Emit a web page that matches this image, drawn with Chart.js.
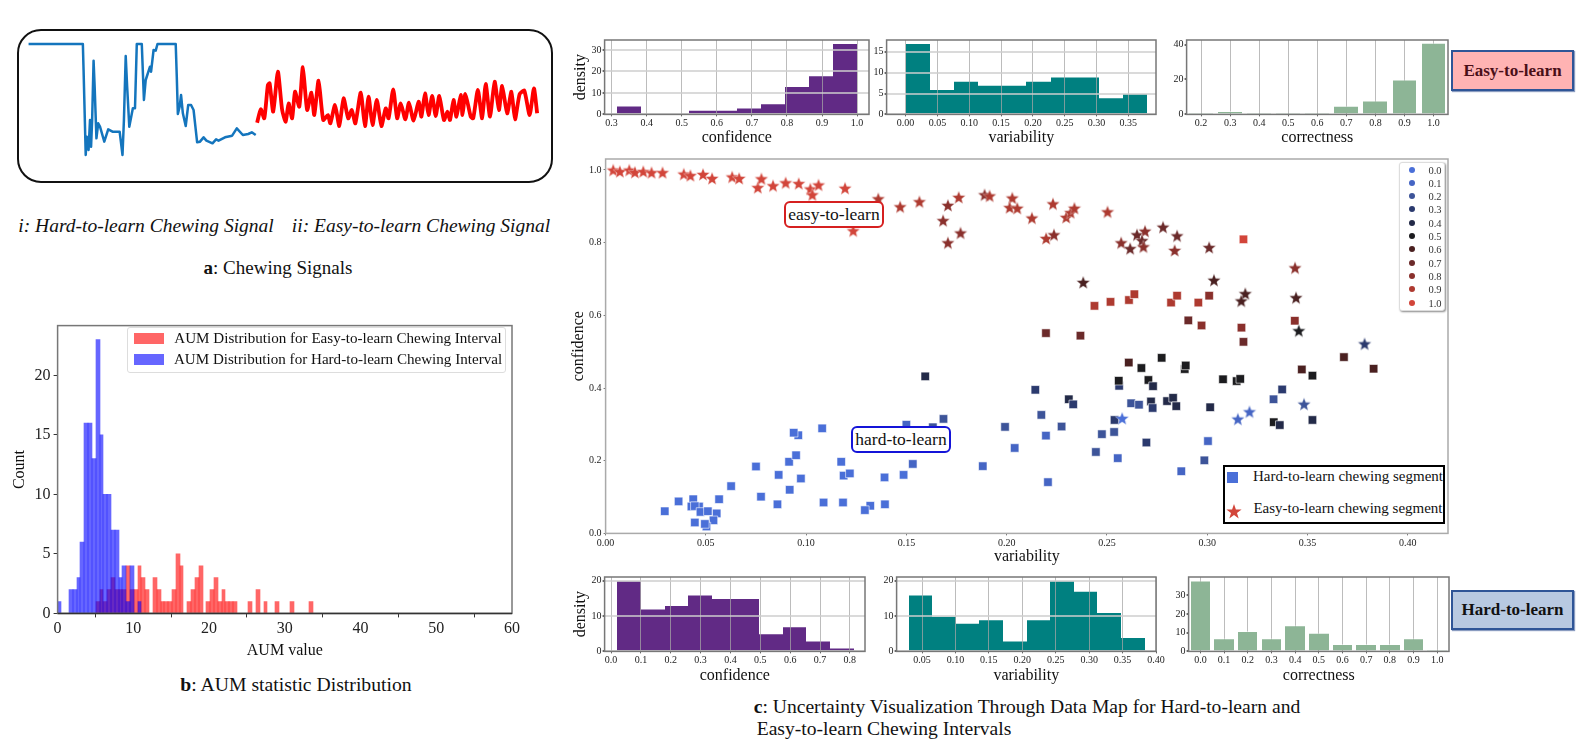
<!DOCTYPE html>
<html>
<head>
<meta charset="utf-8">
<title>Chewing data map</title>
<script src="https://cdn.jsdelivr.net/npm/chart.js@4/dist/chart.umd.min.js"></script>
<style>
  html, body { margin: 0; padding: 0; background: #fff; }
  body { position: relative; width: 1587px; height: 742px; overflow: hidden; font-family: "Liberation Serif", serif; color: #111; }
  canvas { position: absolute; }
  .t { position: absolute; white-space: nowrap; transform: translate(-50%, -50%); }
  .box { position: absolute; box-sizing: border-box; }
  .tag { position: absolute; box-sizing: border-box; border: 2px solid #2f5597; font-weight: bold; font-size: 17px; text-align: center; box-shadow: 1px 1px 1px #8a9cc0; }
  .note { position: absolute; box-sizing: border-box; background: #fff; border-radius: 6px; border: 2px solid; font-size: 17.5px; text-align: center; line-height: 23px; }
  .swatch { position: absolute; }
  .dot { position: absolute; width: 6px; height: 6px; border-radius: 50%; }
</style>
</head>
<body>

<div class="box" style="left:17px;top:29px;width:536px;height:154px;border:2px solid #111;border-radius:24px"></div>
<div class="t" style="left:146px;top:226px;font-size:19.5px;font-style:italic">i: Hard-to-learn Chewing Signal</div>
<div class="t" style="left:421px;top:226px;font-size:19.5px;font-style:italic">ii: Easy-to-learn Chewing Signal</div>
<div class="t" style="left:278px;top:268px;font-size:19px"><b>a</b>: Chewing Signals</div>
<div class="t" style="left:296px;top:684px;font-size:19.7px"><b>b</b>: AUM statistic Distribution</div>

<div class="box" style="left:127px;top:327px;width:379px;height:46px;background:rgba(255,255,255,.85);border:1px solid #ddd;border-radius:3px;z-index:2">
  <div class="swatch" style="left:6px;top:5px;width:30px;height:11px;background:rgba(255,0,0,.6)"></div>
  <div class="swatch" style="left:6px;top:26px;width:30px;height:11px;background:rgba(0,0,255,.6)"></div>
  <div class="t" style="left:210px;top:10px;font-size:15.1px">AUM Distribution for Easy-to-learn Chewing Interval</div>
  <div class="t" style="left:210px;top:31px;font-size:15.1px">AUM Distribution for Hard-to-learn Chewing Interval</div>
</div>

<div class="tag" style="left:1451px;top:50px;width:123px;height:41px;background:#ffb3b3;color:#4a0f18;line-height:37px">Easy-to-learn</div>
<div class="tag" style="left:1451px;top:590px;width:123px;height:40px;background:#b8c9e1;color:#111;line-height:36px">Hard-to-learn</div>

<div class="t" style="left:1027px;top:707px;font-size:19.6px"><b>c</b>: Uncertainty Visualization Through Data Map for Hard-to-learn and</div>
<div class="t" style="left:884px;top:729px;font-size:19.6px">Easy-to-learn Chewing Intervals</div>

<div id="charts"></div>

<div class="note" style="left:784px;top:201px;width:100px;height:27px;border-color:#d62020;z-index:3">easy-to-learn</div>
<div class="note" style="left:851px;top:426px;width:100px;height:27px;border-color:#1414d8;z-index:3">hard-to-learn</div>

<div class="box" id="corrLegend" style="left:1399px;top:162px;width:46px;height:149px;background:#fff;border:1px solid #ddd;border-radius:3px;box-shadow:1px 1px 2px #888;z-index:3"></div>

<div class="box" style="left:1223px;top:465px;width:222px;height:59px;background:#fff;border:2px solid #000;z-index:3">
  <div class="swatch" style="left:2px;top:5px;width:11px;height:11px;background:#4a6fd8"></div>
  <svg class="swatch" style="left:1px;top:37px" width="16" height="16" viewBox="-8 -8 16 16"><polygon fill="#d2453a" points="0,-8 1.9,-2.5 7.6,-2.5 3,0.9 4.7,6.5 0,3.1 -4.7,6.5 -3,0.9 -7.6,-2.5 -1.9,-2.5"/></svg>
  <div class="t" style="left:123px;top:9px;font-size:15px">Hard-to-learn chewing segment</div>
  <div class="t" style="left:123px;top:41px;font-size:15px">Easy-to-learn chewing segment</div>
</div>

<script>
// a: chewing signals
const hardSignalT = [80,232,234,240,243,248,252,255,258,262,265,270,275,280,292,303,315,335,343,347,352,356,362,372,378,383,397,403,408,420,423,430,436,441,492,495,498,503,507,512,520,527,535,542,552,560,570,578,595,605,612,630,650,663,680,695,705,716];
const hardSignalAmp = [428,428,350,95,150,110,200,120,200,378,300,145,190,180,135,172,165,165,95,200,392,300,180,235,235,428,428,260,320,360,345,410,408,428,428,330,218,240,275,220,182,245,245,230,133,135,148,138,130,142,138,148,153,175,155,158,163,155];
const easySignalT = [720,730,740,750,755,765,778,790,800,808,818,826,838,848,860,872,880,892,905,918,925,938,950,962,975,985,995,1010,1022,1032,1043,1055,1068,1080,1088,1101,1112,1122,1135,1145,1158,1172,1180,1190,1200,1210,1220,1230,1243,1253,1260,1270,1278,1290,1295,1303,1318,1325,1338,1350,1360,1372,1385,1397,1406,1420,1432,1442,1455,1468,1483,1495,1504];
const easySignalAmp = [192,232,205,305,310,225,345,230,195,250,205,285,240,358,230,282,215,318,200,215,190,245,182,265,205,230,190,282,182,270,185,260,182,235,205,292,205,250,202,252,198,255,210,280,215,272,212,272,200,225,200,260,210,275,215,278,210,205,290,205,308,210,315,230,302,220,285,202,278,288,215,295,220];

// b: AUM histogram, counts per bin of width aumBinWidth starting at 0
const aumBinWidth = 0.5035;
const aumEasyCounts = [0,0,0,0,0,0,0,0,0,0,1,2,1,2,3,2,2,2,4,2,2,4,3,2,0,3,2,1,1,1,2,5,4,0,1,2,3,4,0,1,2,3,1,2,1,1,1,0,0,0,1,0,2,0,1,0,0,1,0,0,0,1,0,0,0,0,1];
const aumHardCounts = [1,0,0,2,2,3,6,16,16,13,23,15,10,10,7,7,3,4,1,4,0,1];

// c: histograms above the map (easy-to-learn)
const easyConfidenceCounts = [4,0,0,2,2,3,5,13,18,33];
const easyVariabilityCounts = [17,6,8,7,7,8,9,9,4,5];
const easyCorrectnessLabels = ['0.2','0.3','0.4','0.5','0.6','0.7','0.8','0.9','1.0'];
const easyCorrectnessCounts = [1,2,1,1,1,5,8,20,41];

// c: histograms below the map (hard-to-learn)
const hardConfidenceCounts = [20,12,13,16,15,15,5,7,3,1];
const hardVariabilityCounts = [16,10,8,9,3,9,20,17,11,4];
const hardCorrectnessLabels = ['0.0','0.1','0.2','0.3','0.4','0.5','0.6','0.7','0.8','0.9','1.0'];
const hardCorrectnessCounts = [38,7,11,7,14,10,4,4,4,7,1];

// c: data map, hard-to-learn squares
const hardVariability = [.0295,.0364,.0437,.0428,.0466,.0445,.0473,.051,.0566,.0554,.0538,.0445,.0503,.0495,.0626,.075,.0775,.0863,.0857,.0915,.0918,.0961,.0938,.095,.0974,.108,.1087,.1175,.1187,.1184,.1218,.132,.1293,.1391,.1393,.1486,
  .15,.1532,.1594,.1632,.1685,.1881,.2196,.2368,.2438,.2518,.261,.2637,.282,.285,.2956,.301,.2906,.2972,.3171,.3181,.3437,.3181,.2609,.2672,.2773,.2888,.2893,.2561,.2559,.2707,.273,.3079,.3147,.3165,.3472,.3525,.3682,.383,
  .3374,.3331,.2143,.231,.2332,.2621,.266,.272,.2728,.28,.283,.2846,.3015,.2173,.1992,.2274,.2538,.2196,.204,.2475,.2536,.2445,.2554,.2697,.2206,.2871,.2986,.3004,.3332,.3362,.3525];
const hardConfidence = [.061,.088,.094,.074,.074,.075,.059,.061,.094,.055,.036,.03,.019,.026,.13,.184,.101,.161,.08,.197,.12,.27,.277,.215,.151,.289,.085,.197,.159,.085,.165,.076,.064,.154,.08,.161,
  .299,.191,.432,.292,.315,.185,.551,.544,.626,.637,.642,.658,.635,.654,.635,.654,.586,.572,.566,.527,.585,.809,.47,.455,.483,.452,.462,.406,.42,.422,.405,.424,.419,.425,.451,.434,.485,.453,
  .396,.369,.395,.369,.355,.358,.354,.363,.345,.364,.373,.35,.347,.326,.293,.294,.312,.269,.235,.273,.279,.224,.207,.25,.141,.171,.201,.254,.306,.298,.312];
const hardCorrectness = [0,0,0,0,0,0,0,0,0,0,0,0,0,0,0,0,0,0,0,0,0,0,0,0,0,0,0,0,0,0,0,0,0,0,0,0,
  .1,.1,.4,.2,.2,.1,.7,.7,.9,.9,.9,.9,.9,.9,.9,.8,.7,.8,.8,.7,.8,1,.6,.5,.5,.5,.5,.3,.5,.5,.4,.5,.5,.5,.6,.5,.6,.6,
  .3,.2,.3,.4,.3,.2,.2,.4,.3,.4,.4,.4,.4,.2,.2,.2,.3,.1,.1,.2,.2,.2,.1,.3,.1,.1,.2,.1,.5,.4,.4];

// c: data map, easy-to-learn stars
const easyVariability = [.0038,.0071,.0118,.0146,.0188,.0229,.0284,.039,.0423,.0486,.0531,.0631,.0666,.0759,.0777,.0835,.0898,.0963,.1021,.1031,.1062,.1194,.1235,
  .136,.1469,.1565,.1683,.1707,.1761,.1707,.177,.189,.1915,.2028,.2015,.2053,.2126,.2231,.2297,.2319,.2338,.2503,.2197,.2236,.2382,.2571,.2616,.265,.269,.2675,.2682,.278,.285,.2838,.301,.3034,.319,.317,.3438,.3443,.3457,.3785,.2576,.3153,.3211,.3483];
const easyConfidence = [.998,.994,.998,.992,.994,.991,.991,.987,.983,.986,.975,.979,.975,.95,.974,.955,.963,.961,.946,.93,.957,.948,.831,
  .919,.897,.911,.859,.901,.923,.798,.825,.93,.927,.921,.895,.893,.866,.905,.868,.881,.893,.883,.81,.82,.689,.798,.782,.82,.83,.804,.787,.841,.817,.777,.785,.695,.658,.638,.729,.647,.556,.52,.315,.313,.333,.354];
const easyCorrectness = [1,1,1,1,1,1,1,1,1,1,1,1,1,1,1,1,1,1,1,1,1,1,1,
  .9,.9,.9,.8,.8,.9,.8,.8,.8,.9,.9,.9,.9,.9,.9,.9,.9,.9,.9,.9,.8,.6,.8,.7,.7,.8,.7,.8,.7,.7,.8,.7,.6,.6,.6,.8,.6,.5,.3,0,.1,.1,.2];

const correctnessLevels = ['0.0','0.1','0.2','0.3','0.4','0.5','0.6','0.7','0.8','0.9','1.0'];
const correctnessColors = ['#4a6fd8','#4565c4','#3d5499','#2b3a6e','#232a48','#1c1c1f','#4a2020','#6b2a2a','#8a302c','#ae3a30','#d2453a'];

const serif = 'Liberation Serif';
Chart.defaults.font.family = serif;
Chart.defaults.color = '#222';
Chart.defaults.animation = false;
Chart.defaults.responsive = false;
Chart.defaults.plugins.legend.display = false;
Chart.defaults.plugins.tooltip.enabled = false;

// plot frame, top and right spines do not exist in chart.js
const spines = {
  id: 'spines',
  afterDraw(chart, args, opts) {
    const a = chart.chartArea, c = chart.ctx;
    if (!opts.color) return;
    c.save();
    c.strokeStyle = opts.color;
    c.lineWidth = opts.width || 1.5;
    c.strokeRect(a.left, a.top, a.right - a.left, a.bottom - a.top);
    if (opts.bottom) {
      c.strokeStyle = opts.bottom;
      c.beginPath();
      c.moveTo(a.left, a.bottom);
      c.lineTo(a.right, a.bottom);
      c.stroke();
    }
    c.restore();
  }
};
Chart.register(spines);

// snap histogram bars to whole pixels so neighbours leave no seam
const snapBars = {
  id: 'snapBars',
  beforeDatasetsDraw(chart) {
    chart.getSortedVisibleDatasetMetas().forEach(meta => {
      if (meta.type !== 'bar') return;
      meta.data.forEach(el => {
        const left = Math.round(el.x - el.width / 2);
        const right = Math.round(el.x + el.width / 2);
        el.x = (left + right) / 2;
        el.width = right - left;
      });
    });
  }
};
Chart.register(snapBars);

// place a canvas so the chart area lands on plot {l,t,r,b}
function place(plot, xTitleY, yTitleX, xFont, yFont) {
  const topPad = 6, rightPad = 16;
  const xHalf = xFont * 0.6, yHalf = yFont * 0.6;
  const left = yTitleX - yHalf;
  const bottom = xTitleY + xHalf;
  const cv = document.createElement('canvas');
  cv.width = plot.r + rightPad - left;
  cv.height = bottom - plot.t + topPad;
  cv.style.left = left + 'px';
  cv.style.top = (plot.t - topPad) + 'px';
  cv.style.width = cv.width + 'px';
  cv.style.height = cv.height + 'px';
  document.getElementById('charts').appendChild(cv);
  return {
    cv,
    yWidth: plot.l - left,
    xHeight: bottom - plot.b,
    padding: { top: topPad, right: rightPad, left: 0, bottom: 0 }
  };
}

function histogram(o) {
  const p = place(o.plot, o.xTitleY, o.yTitleX || o.plot.l - 30, 16, 16);
  const pxPerUnit = o.labels ? 0 : (o.plot.r - o.plot.l) / (o.xMax - o.xMin);
  const points = o.labels ? o.counts : o.counts.map((n, i) => ({ x: o.start + (i + 0.5) * o.width, y: n }));
  const dataset = {
    data: points,
    backgroundColor: o.color,
    borderColor: 'rgba(255,255,255,.45)',
    borderWidth: { top: 1, left: 0, right: 0, bottom: 0 },
    borderSkipped: false
  };
  if (o.labels) {
    dataset.barPercentage = 0.82;
    dataset.categoryPercentage = 1;
  } else {
    dataset.barThickness = o.width * pxPerUnit;
  }
  const xTicks = { font: { size: 10 }, padding: 1, maxRotation: 0, autoSkip: false };
  if (o.labels) {
    xTicks.callback = (v, i) => o.labels[i];
  } else {
    xTicks.includeBounds = false;
    xTicks.stepSize = o.xStep;
    xTicks.callback = v => v.toFixed(o.xDigits);
  }
  new Chart(p.cv, {
    type: 'bar',
    data: { labels: o.labels, datasets: [dataset] },
    options: {
      layout: { padding: p.padding, autoPadding: false },
      plugins: { spines: { color: '#777', width: 1.5 } },
      scales: {
        x: {
          type: o.labels ? 'category' : 'linear',
          min: o.labels ? undefined : o.xMin,
          max: o.labels ? undefined : o.xMax,
          offset: !!o.labels,
          afterFit: s => { s.height = p.xHeight; },
          grid: { color: 'rgba(165,165,165,.75)', z: o.labels ? 0 : 1, offset: false, tickLength: 2, tickColor: '#666' },
          ticks: xTicks,
          title: { display: true, text: o.xTitle, font: { size: 16, lineHeight: 1.2 }, padding: 0, color: '#111' },
          border: { display: false }
        },
        y: {
          min: 0, max: o.yMax,
          afterFit: s => { s.width = p.yWidth; },
          grid: { display: true, color: o.yGrid ? 'rgba(205,205,205,.75)' : 'rgba(0,0,0,0)', lineWidth: 2, z: 1, tickLength: 2, tickColor: '#666' },
          ticks: { font: { size: 10 }, padding: 1, stepSize: o.yStep, includeBounds: false, autoSkip: false },
          title: { display: !!o.yTitle, text: o.yTitle, font: { size: 16, lineHeight: 1.2 }, padding: 0, color: '#111' },
          border: { display: false }
        }
      }
    }
  });
}

// a
(function () {
  const cv = document.createElement('canvas');
  cv.width = 560; cv.height = 260;
  cv.style.left = '0px'; cv.style.top = '20px';
  cv.style.width = '560px'; cv.style.height = '260px';
  document.getElementById('charts').appendChild(cv);
  new Chart(cv, {
    type: 'line',
    data: {
      datasets: [
        { data: hardSignalT.map((t, i) => ({ x: t, y: hardSignalAmp[i] })), borderColor: '#1475bd', borderWidth: 2.5, pointRadius: 0, borderJoinStyle: 'round' },
        { data: easySignalT.map((t, i) => ({ x: t, y: easySignalAmp[i] })), borderColor: '#ff0000', borderWidth: 3.8, pointRadius: 0, tension: 0.2, borderJoinStyle: 'round' }
      ]
    },
    options: {
      layout: { padding: 0, autoPadding: false },
      scales: {
        x: { type: 'linear', display: false, min: 0, max: 1568 },
        y: { display: false, min: -280, max: 500 }
      }
    }
  });
})();

// b
(function () {
  const plot = { l: 58, t: 319, r: 513, b: 614 };
  const p = place(plot, 651, 20, 16, 16);
  const toPoints = counts => counts.map((n, i) => ({ x: (i + 0.5) * aumBinWidth, y: n }));
  const thick = aumBinWidth * (plot.r - plot.l) / 60;
  new Chart(p.cv, {
    type: 'bar',
    data: {
      datasets: [
        { data: toPoints(aumHardCounts), backgroundColor: 'rgba(0,0,255,.6)', grouped: false, barThickness: thick, order: 1 },
        { data: toPoints(aumEasyCounts), backgroundColor: 'rgba(255,0,0,.6)', grouped: false, barThickness: thick, order: 2 }
      ]
    },
    options: {
      layout: { padding: p.padding, autoPadding: false },
      plugins: { spines: { color: '#777', width: 1.5, bottom: '#333' } },
      scales: {
        x: {
          type: 'linear', min: 0, max: 60, offset: false,
          afterFit: s => { s.height = p.xHeight; },
          grid: { drawOnChartArea: false, tickLength: 4, tickColor: '#333' },
          ticks: { font: { size: 16 }, padding: 2, stepSize: 10, maxRotation: 0, autoSkip: false },
          title: { display: true, text: 'AUM value', font: { size: 16, lineHeight: 1.2 }, padding: 0, color: '#111' },
          border: { display: false }
        },
        y: {
          min: 0, max: 24.18,
          afterFit: s => { s.width = p.yWidth; },
          grid: { drawOnChartArea: false, tickLength: 4, tickColor: '#333' },
          ticks: { font: { size: 16 }, padding: 3, stepSize: 5, includeBounds: false },
          title: { display: true, text: 'Count', font: { size: 16, lineHeight: 1.2 }, padding: 0, color: '#111' },
          border: { display: false }
        }
      }
    }
  });
})();

// c: top row
const purple = '#612a85', teal = '#008080', sage = '#8db596';
histogram({ plot: { l: 605, t: 39, r: 870, b: 115 }, xTitleY: 138, yTitleX: 581, xTitle: 'confidence', yTitle: 'density',
  counts: easyConfidenceCounts, start: 0.316, width: 0.0684, color: purple, xMin: 0.28, xMax: 1.034, xStep: 0.1, xDigits: 1, yMax: 34.6, yStep: 10, yGrid: true });
histogram({ plot: { l: 887, t: 39, r: 1157, b: 115 }, xTitleY: 138, xTitle: 'variability',
  counts: easyVariabilityCounts, start: 0.0, width: 0.038, color: teal, xMin: -0.0298, xMax: 0.3934, xStep: 0.05, xDigits: 2, yMax: 17.8, yStep: 5, yGrid: true });
histogram({ plot: { l: 1187, t: 39, r: 1449, b: 115 }, xTitleY: 138, xTitle: 'correctness',
  counts: easyCorrectnessCounts, labels: easyCorrectnessLabels, color: sage, yMax: 42.6, yStep: 20 });

// c: bottom row
histogram({ plot: { l: 605, t: 576, r: 866, b: 652 }, xTitleY: 676, yTitleX: 581, xTitle: 'confidence', yTitle: 'density',
  counts: hardConfidenceCounts, start: 0.0213, width: 0.0791, color: purple, xMin: -0.0217, xMax: 0.8507, xStep: 0.1, xDigits: 1, yMax: 21, yStep: 10, yGrid: true });
histogram({ plot: { l: 897, t: 576, r: 1157, b: 652 }, xTitleY: 676, xTitle: 'variability',
  counts: hardVariabilityCounts, start: 0.03, width: 0.0353, color: teal, xMin: 0.012, xMax: 0.4, xStep: 0.05, xDigits: 2, yMax: 21, yStep: 10, yGrid: true });
histogram({ plot: { l: 1189, t: 576, r: 1450, b: 652 }, xTitleY: 676, xTitle: 'correctness',
  counts: hardCorrectnessCounts, labels: hardCorrectnessLabels, color: sage, yMax: 39.9, yStep: 10 });

// chart.js "star" is only strokes, so make a filled five point one per colour
function starImage(color) {
  const size = 16, c = document.createElement('canvas');
  c.width = c.height = size;
  const g = c.getContext('2d');
  g.translate(size / 2, size / 2);
  g.beginPath();
  for (let i = 0; i < 10; i++) {
    const r = i % 2 ? 3 : 7, a = -Math.PI / 2 + i * Math.PI / 5;
    g.lineTo(r * Math.cos(a), r * Math.sin(a));
  }
  g.closePath();
  g.fillStyle = color;
  g.fill();
  g.lineWidth = 0.4;
  g.strokeStyle = 'rgba(255,255,255,.8)';
  g.stroke();
  return c;
}
const starImages = correctnessColors.map(starImage);
const level = c => Math.round(c * 10);

// c: data map
(function () {
  const plot = { l: 606, t: 157, r: 1449, b: 534 };
  const p = place(plot, 557, 579, 16, 16);
  new Chart(p.cv, {
    type: 'scatter',
    data: {
      datasets: [
        {
          data: easyVariability.map((v, i) => ({ x: v, y: easyConfidence[i] })),
          pointStyle: easyCorrectness.map(c => starImages[level(c)]),
          order: 1
        },
        {
          data: hardVariability.map((v, i) => ({ x: v, y: hardConfidence[i] })),
          pointStyle: 'rect',
          pointRadius: 6,
          backgroundColor: hardCorrectness.map(c => correctnessColors[level(c)]),
          borderColor: 'rgba(255,255,255,.75)',
          borderWidth: 0.8,
          order: 2
        }
      ]
    },
    options: {
      layout: { padding: p.padding, autoPadding: false },
      clip: false,
      plugins: { spines: { color: '#aaa', width: 1.5 } },
      scales: {
        x: {
          type: 'linear', min: 0, max: 0.4201,
          afterFit: s => { s.height = p.xHeight; },
          grid: { drawOnChartArea: false, tickLength: 2, tickColor: '#777' },
          ticks: { font: { size: 10 }, padding: 2, stepSize: 0.05, maxRotation: 0, autoSkip: false, includeBounds: false, callback: v => v.toFixed(2) },
          title: { display: true, text: 'variability', font: { size: 16, lineHeight: 1.2 }, padding: 0, color: '#111' },
          border: { display: false }
        },
        y: {
          min: 0, max: 1.03,
          afterFit: s => { s.width = p.yWidth; },
          grid: { drawOnChartArea: false, tickLength: 2, tickColor: '#777' },
          ticks: { font: { size: 10 }, padding: 2, stepSize: 0.2, includeBounds: false, callback: v => v.toFixed(1) },
          title: { display: true, text: 'confidence', font: { size: 16, lineHeight: 1.2 }, padding: 0, color: '#111' },
          border: { display: false }
        }
      }
    }
  });
})();

// correctness legend in the corner of the map
const corrLegend = document.getElementById('corrLegend');
correctnessLevels.forEach((label, i) => {
  const rowY = 6.5 + i * 13.3;
  const d = document.createElement('div');
  d.className = 'dot';
  d.style.cssText = 'left:9px;top:' + (rowY - 3) + 'px;background:' + correctnessColors[i];
  corrLegend.appendChild(d);
  const t = document.createElement('div');
  t.className = 't';
  t.style.cssText = 'left:35px;top:' + rowY + 'px;font-size:10.5px;color:#333';
  t.textContent = label;
  corrLegend.appendChild(t);
});
</script>
</body>
</html>
